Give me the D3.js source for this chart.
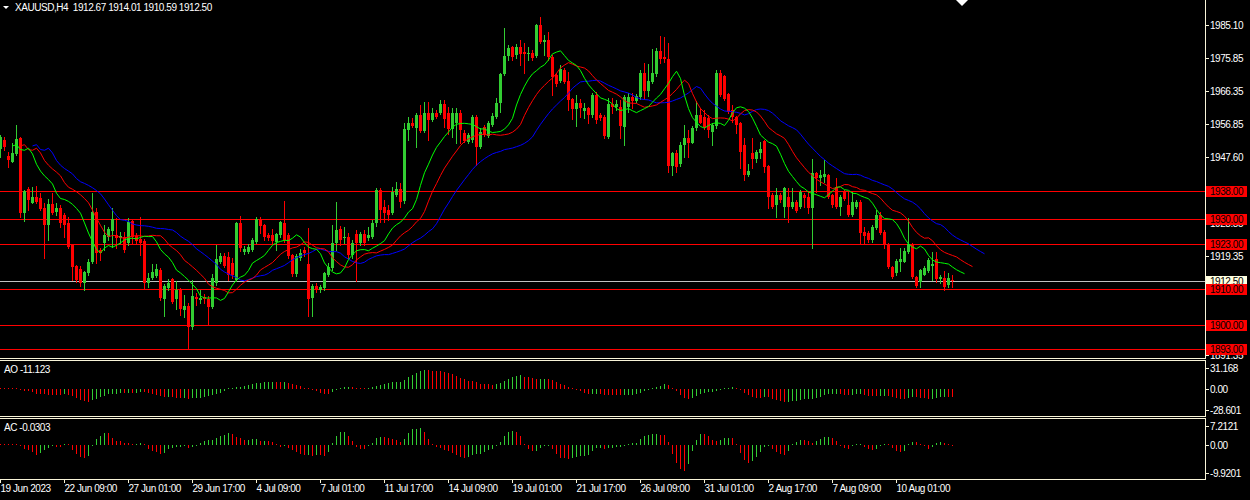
<!DOCTYPE html>
<html>
<head>
<meta charset="utf-8">
<script src="https://cdn.jsdelivr.net/npm/d3@7"></script>
<style>
  html, body { margin: 0; padding: 0; background: #000; overflow: hidden; }
  svg text { font-family: "Liberation Sans", Arial, sans-serif; font-size: 10px; letter-spacing: -0.45px; }
</style>
</head>
<body>
<div id="chart"></div>
<script>
// XAUUSD H4 candles (oldest first)
const opens = [
  1949.9,1952.4,1948.0,1946.3,1948.4,1952.9,1931.6,1938.5,1934.4,1936.3,
  1935.9,1933.0,1928.3,1934.2,1932.1,1933.2,1931.1,1928.9,1922.6,1916.6,
  1915.7,1911.9,1914.6,1917.9,1931.9,1921.2,1923.1,1925.0,1926.6,1925.4,
  1924.5,1924.9,1923.1,1929.4,1925.2,1924.2,1923.8,1911.7,1913.1,1913.8,
  1915.5,1907.3,1910.5,1912.9,1907.2,1909.8,1904.1,1905.3,1899.2,1907.9,
  1907.0,1907.9,1907.4,1905.1,1911.7,1917.9,1919.6,1919.3,1917.5,1912.7,
  1928.8,1920.5,1920.7,1921.2,1923.5,1929.9,1928.3,1925.4,1925.4,1923.4,
  1925.4,1928.8,1925.4,1919.8,1914.4,1918.8,1921.2,1917.2,1907.5,1911.0,
  1909.8,1910.3,1914.1,1916.0,1923.3,1927.1,1924.5,1924.9,1919.8,1925.7,
  1923.1,1925.7,1924.5,1925.0,1928.8,1938.2,1933.5,1932.5,1931.8,1936.8,
  1938.5,1935.2,1955.3,1957.2,1955.8,1959.5,1955.1,1960.0,1958.1,1960.2,
  1960.0,1962.6,1960.0,1955.5,1957.2,1960.0,1954.3,1952.0,1952.4,1958.9,
  1950.4,1956.1,1953.7,1956.7,1959.1,1962.9,1971.2,1976.3,1978.8,1976.6,
  1978.8,1977.5,1976.8,1977.2,1976.3,1985.1,1980.4,1980.8,1976.1,1970.9,
  1969.3,1972.3,1969.3,1964.0,1961.1,1962.9,1960.7,1961.6,1959.5,1965.2,
  1959.5,1959.0,1953.2,1962.6,1961.9,1961.9,1956.2,1961.9,1964.6,1963.6,
  1964.6,1971.5,1966.3,1969.0,1971.1,1977.8,1976.1,1975.4,1945.0,1948.6,
  1945.6,1951.0,1952.9,1951.7,1955.8,1959.4,1959.0,1958.6,1954.8,1956.4,
  1971.4,1970.6,1965.5,1960.9,1958.9,1957.3,1951.0,1942.5,1948.7,1947.0,
  1948.8,1952.1,1945.0,1936.8,1934.0,1936.8,1933.4,1936.2,1933.4,1934.8,
  1933.4,1936.8,1936.2,1933.1,1943.1,1941.6,1941.9,1942.5,1936.8,1939.1,
  1933.4,1937.7,1934.0,1931.1,1933.4,1934.8,1926.3,1926.0,1924.0,1927.4,
  1931.1,1926.3,1922.9,1916.3,1914.6,1917.8,1917.8,1920.6,1922.9,1913.5,
  1912.1,1914.1,1915.2,1916.6,1918.6,1912.9,1913.2,1911.2,1912.67
];
const highs = [
  1953.9,1953.3,1949.1,1951.6,1956.7,1953.3,1938.2,1939.2,1939.2,1939.4,
  1937.4,1934.5,1935.7,1937.4,1934.5,1934.0,1931.7,1930.6,1923.0,1917.0,
  1916.5,1915.3,1918.6,1937.3,1933.1,1921.7,1928.3,1927.8,1933.1,1930.3,
  1926.4,1926.4,1930.3,1930.0,1926.0,1930.6,1924.2,1914.6,1917.2,1917.2,
  1916.0,1911.4,1912.9,1913.2,1912.4,1910.4,1908.4,1906.1,1912.7,1909.0,
  1909.8,1908.7,1908.1,1914.4,1922.6,1920.4,1920.4,1920.7,1918.9,1929.1,
  1930.8,1922.3,1922.8,1924.6,1930.6,1930.6,1928.6,1926.0,1927.1,1926.0,
  1929.4,1935.1,1925.9,1920.0,1920.0,1921.4,1922.0,1927.4,1911.5,1911.8,
  1911.2,1915.0,1917.5,1928.3,1934.7,1928.0,1927.8,1926.0,1924.0,1926.9,
  1926.3,1926.9,1927.8,1929.7,1938.8,1938.8,1935.4,1934.0,1939.0,1940.6,
  1940.1,1957.2,1959.0,1958.6,1960.1,1962.4,1963.3,1963.3,1961.6,1960.9,
  1963.8,1963.8,1961.9,1961.4,1961.4,1960.9,1955.3,1954.3,1959.5,1959.5,
  1955.8,1956.7,1957.7,1960.1,1964.3,1971.6,1984.2,1979.4,1979.1,1979.7,
  1980.8,1980.1,1978.9,1978.0,1985.3,1987.5,1982.3,1983.2,1976.6,1971.5,
  1973.7,1972.9,1971.8,1964.3,1965.2,1964.0,1962.9,1961.9,1965.8,1966.1,
  1960.1,1959.5,1964.3,1964.3,1963.8,1963.8,1965.2,1965.7,1965.7,1965.5,
  1972.3,1974.2,1973.9,1978.2,1978.5,1982.0,1981.6,1979.9,1949.0,1949.6,
  1951.9,1956.7,1955.3,1956.4,1963.6,1961.4,1960.9,1959.5,1957.2,1972.3,
  1972.3,1970.9,1965.8,1962.4,1959.2,1957.6,1953.0,1945.6,1953.0,1949.6,
  1951.9,1952.4,1945.3,1937.4,1938.8,1937.4,1939.1,1938.8,1938.8,1935.4,
  1938.2,1937.4,1937.7,1947.0,1943.3,1943.9,1946.7,1942.8,1937.1,1941.6,
  1936.8,1938.2,1937.7,1937.7,1935.4,1935.4,1927.7,1926.6,1928.3,1932.5,
  1932.0,1926.9,1923.2,1916.6,1918.6,1921.7,1921.7,1930.3,1923.2,1913.8,
  1915.8,1916.6,1918.9,1920.6,1920.6,1914.1,1915.2,1914.6,1914.01
];
const lows = [
  1947.6,1949.6,1944.8,1946.2,1948.2,1930.6,1929.4,1932.5,1934.4,1934.5,
  1932.5,1919.0,1924.0,1931.4,1931.1,1927.7,1925.0,1921.7,1912.7,1912.0,
  1910.9,1909.8,1914.0,1917.5,1917.5,1918.3,1921.2,1924.0,1922.1,1921.7,
  1923.2,1920.7,1922.6,1923.2,1922.8,1919.8,1910.5,1910.8,1913.0,1913.4,
  1907.0,1902.5,1909.8,1906.1,1904.4,1902.7,1902.2,1893.0,1898.8,1905.5,
  1906.1,1906.1,1900.1,1904.8,1911.2,1917.5,1916.4,1912.7,1913.2,1912.5,
  1921.0,1920.0,1920.3,1920.9,1923.2,1926.0,1924.0,1924.0,1923.2,1921.2,
  1925.0,1923.5,1918.8,1913.8,1913.8,1918.3,1919.5,1902.5,1902.5,1909.2,
  1909.2,1909.8,1913.8,1915.5,1921.2,1922.6,1923.1,1918.9,1918.9,1912.5,
  1922.6,1922.6,1924.0,1924.6,1928.0,1929.2,1929.2,1929.7,1931.4,1936.5,
  1933.5,1934.6,1952.4,1956.2,1950.5,1954.8,1954.8,1952.4,1957.8,1958.7,
  1959.8,1956.2,1954.1,1953.4,1951.5,1951.5,1951.9,1951.6,1952.0,1945.3,
  1950.2,1953.6,1953.4,1956.4,1958.7,1960.5,1970.9,1975.2,1975.2,1975.7,
  1973.7,1971.4,1975.2,1975.2,1976.0,1980.0,1976.6,1975.2,1965.2,1967.8,
  1969.0,1968.6,1960.9,1958.3,1956.4,1959.0,1958.6,1957.2,1959.0,1957.2,
  1958.1,1952.9,1952.9,1960.0,1960.9,1952.9,1951.0,1960.5,1961.4,1963.2,
  1964.0,1964.0,1965.0,1968.6,1970.6,1974.2,1974.7,1943.4,1942.5,1943.4,
  1945.0,1947.7,1947.7,1951.6,1955.3,1957.2,1955.5,1953.4,1951.0,1955.8,
  1964.9,1963.8,1960.1,1957.5,1954.4,1944.5,1941.1,1942.2,1944.5,1946.2,
  1947.3,1943.3,1933.1,1933.1,1930.6,1934.8,1930.6,1929.1,1933.1,1932.0,
  1933.1,1933.4,1931.7,1921.7,1937.7,1939.6,1940.5,1935.9,1933.4,1933.1,
  1931.1,1935.4,1930.8,1930.8,1933.1,1923.2,1923.2,1923.5,1923.5,1927.1,
  1925.7,1921.7,1916.1,1913.2,1914.1,1915.2,1917.8,1920.3,1913.2,1910.7,
  1910.7,1914.1,1914.9,1912.7,1912.1,1911.8,1909.8,1910.7,1910.59
];
const closes = [
  1953.3,1950.4,1946.7,1948.8,1952.6,1931.6,1937.9,1935.4,1936.3,1934.9,
  1932.8,1928.3,1934.2,1931.8,1933.2,1928.8,1928.3,1922.1,1916.4,1912.7,
  1911.9,1914.8,1917.9,1932.1,1920.4,1920.2,1925.4,1927.1,1930.0,1924.5,
  1925.2,1921.2,1929.0,1924.8,1923.8,1923.1,1911.7,1913.2,1915.0,1915.7,
  1907.5,1911.0,1911.9,1906.5,1909.8,1904.3,1905.3,1899.4,1908.1,1907.2,
  1907.6,1907.2,1905.1,1913.1,1918.6,1919.6,1916.6,1914.1,1914.1,1928.8,
  1921.7,1921.5,1922.0,1924.0,1929.9,1928.0,1925.0,1924.5,1923.8,1925.7,
  1929.2,1924.0,1919.5,1914.4,1919.5,1920.2,1920.3,1907.3,1911.0,1909.8,
  1910.7,1914.6,1916.4,1923.1,1926.9,1924.0,1924.9,1919.8,1923.1,1923.1,
  1925.7,1923.3,1925.4,1928.8,1938.2,1932.5,1931.6,1931.1,1937.7,1938.5,
  1934.9,1955.6,1957.2,1956.4,1959.5,1955.1,1960.0,1958.1,1960.0,1959.0,
  1962.6,1958.3,1955.5,1960.2,1960.0,1955.3,1952.2,1953.8,1958.9,1950.5,
  1954.7,1953.8,1957.2,1959.2,1962.9,1971.2,1976.3,1978.5,1976.1,1978.8,
  1976.9,1976.8,1977.2,1975.6,1985.1,1980.4,1980.8,1976.1,1970.4,1968.3,
  1972.5,1969.0,1963.8,1961.1,1962.9,1961.4,1961.6,1959.5,1965.2,1958.1,
  1958.6,1953.6,1962.6,1961.9,1962.6,1956.4,1964.7,1964.7,1963.6,1964.9,
  1971.5,1966.3,1969.2,1971.5,1977.8,1975.4,1975.4,1945.0,1948.6,1944.8,
  1951.0,1952.9,1951.7,1955.8,1959.4,1957.3,1956.2,1955.3,1956.7,1971.4,
  1965.2,1964.0,1960.4,1958.9,1956.7,1949.0,1942.5,1943.6,1947.0,1949.0,
  1949.9,1944.8,1936.2,1933.4,1936.8,1935.4,1938.8,1933.4,1934.8,1932.3,
  1937.7,1936.0,1933.1,1943.1,1941.6,1942.5,1942.8,1936.2,1934.0,1933.4,
  1936.2,1935.7,1931.1,1934.8,1934.8,1926.0,1925.2,1924.0,1927.7,1931.1,
  1926.0,1922.6,1916.3,1913.5,1918.0,1918.6,1920.9,1922.9,1913.5,1911.0,
  1915.5,1916.1,1918.3,1917.2,1912.9,1913.5,1910.7,1913.2,1912.50
];

// time axis: a label every 16 bars
const timeTickBars = [0,16,32,48,64,80,96,112,128,144,160,176,192,208,224];
const timeLabels = ["19 Jun 2023","22 Jun 09:00","27 Jun 01:00","29 Jun 17:00","4 Jul 09:00",
  "7 Jul 01:00","11 Jul 17:00","14 Jul 09:00","19 Jul 01:00","21 Jul 17:00","26 Jul 09:00",
  "31 Jul 01:00","2 Aug 17:00","7 Aug 09:00","10 Aug 01:00"];

// price labels that show (the ones under the level boxes are hidden in the original)
const priceTicks = [1985.10,1975.85,1966.35,1956.85,1947.60,1928.85,1919.35,1891.35];
const levels = [1938,1930,1923,1910,1900,1893];
const bid = 1912.50;
const title = "XAUUSD,H4  1912.67 1914.01 1910.59 1912.50";

const aoTicks = [31.168, 0, -28.601];
const aoTickText = ["31.168", "0.00", "-28.601"];
const acTicks = [7.2121, 0, -9.9201];
const acTickText = ["7.2121", "0.00", "-9.9201"];
const aoTitle = "AO -11.123";
const acTitle = "AC -0.0303";

// ---- chart setup ----
const width = 1250, height = 500;
const plotRight = 1205;
const bull = "#32cd32", bear = "#ff0000", frame = "#f8f4d8";

const svg = d3.select("#chart").append("svg")
  .attr("width", width)
  .attr("height", height)
  .style("background", "#000");

const x = d3.scaleLinear().domain([0, 1]).range([0.5, 4.5]);
const y = d3.scaleLinear().domain([1891.35, 1985.10]).range([355, 25]);
const yAO = d3.scaleLinear().domain([-28.601, 31.168]).range([409.5, 367.5]);
const yAC = d3.scaleLinear().domain([-9.9201, 7.2121]).range([472.5, 425.7]);

const panels = [
  {id: "main", top: 0, bottom: 358.5},
  {id: "ao", top: 360.5, bottom: 416.5},
  {id: "ac", top: 418.5, bottom: 479.5}
];

const defs = svg.append("defs");
panels.forEach(p => {
  defs.append("clipPath").attr("id", "clip-" + p.id)
    .append("rect").attr("x", 0).attr("y", p.top + 0.5)
    .attr("width", plotRight).attr("height", p.bottom - p.top - 1);
});

// ---- indicators ----
const median = highs.map((h, i) => (h + lows[i]) / 2);

function sma(src, n) {
  return src.map((_, i) => d3.mean(src.slice(Math.max(0, i - n + 1), i + 1)));
}
function smma(src, n) {
  const out = [];
  let prev = 0;
  src.forEach((v, i) => {
    if (i < n) prev = d3.mean(src.slice(0, i + 1));
    else prev = (prev * (n - 1) + v) / n;
    out.push(prev);
  });
  return out;
}

const fast = sma(median, 5), slow = sma(median, 34);
const ao = fast.map((v, i) => v - slow[i]);
const aoSma = sma(ao, 5);
const ac = ao.map((v, i) => v - aoSma[i]);

// Alligator: jaw 13/8, teeth 8/5, lips 5/3
const alligator = [
  {vals: smma(median, 13), shift: 8, color: "#0000ff"},
  {vals: smma(median, 8), shift: 5, color: "#ff0000"},
  {vals: smma(median, 5), shift: 3, color: "#00ff00"}
];

// ---- main panel ----
const main = svg.append("g").attr("clip-path", "url(#clip-main)");

// horizontal levels
main.selectAll("line.level")
  .data(levels)
  .enter()
  .append("line")
  .attr("x1", 0).attr("x2", plotRight)
  .attr("y1", d => Math.round(y(d)) + 0.5)
  .attr("y2", d => Math.round(y(d)) + 0.5)
  .attr("stroke", "#ff0000")
  .attr("shape-rendering", "crispEdges");

// bid line
main.append("line")
  .attr("x1", 0).attr("x2", plotRight)
  .attr("y1", Math.round(y(bid)) + 0.5).attr("y2", Math.round(y(bid)) + 0.5)
  .attr("stroke", "#c0c0c0")
  .attr("shape-rendering", "crispEdges");

const bars = d3.range(closes.length);
const candleColor = i => closes[i] >= opens[i] ? bull : bear;

main.selectAll("line.wick")
  .data(bars)
  .enter()
  .append("line")
  .attr("x1", i => x(i)).attr("x2", i => x(i))
  .attr("y1", i => Math.round(y(highs[i])))
  .attr("y2", i => Math.round(y(lows[i])) + 1)
  .attr("stroke", candleColor)
  .attr("shape-rendering", "crispEdges");

main.selectAll("rect.body")
  .data(bars)
  .enter()
  .append("rect")
  .attr("x", i => x(i) - 1.5)
  .attr("width", 3)
  .attr("y", i => Math.round(y(Math.max(opens[i], closes[i]))))
  .attr("height", i => Math.max(1, Math.round(y(Math.min(opens[i], closes[i]))) - Math.round(y(Math.max(opens[i], closes[i])))))
  .attr("fill", candleColor)
  .attr("shape-rendering", "crispEdges");

// Alligator lines
alligator.forEach(a => {
  const line = d3.line()
    .x((d, i) => x(i + a.shift))
    .y(d => y(d));
  main.append("path")
    .attr("d", line(a.vals))
    .attr("fill", "none")
    .attr("stroke", a.color)
    .attr("stroke-width", 1);
});

// ---- oscillator panels ----
function histogram(id, vals, scale) {
  const g = svg.append("g").attr("clip-path", "url(#clip-" + id + ")");
  const zero = scale(0);
  g.selectAll("line")
    .data(vals)
    .enter()
    .append("line")
    .attr("x1", (d, i) => x(i)).attr("x2", (d, i) => x(i))
    .attr("y1", zero)
    .attr("y2", d => Math.abs(scale(d) - zero) < 1 ? zero + (d < 0 ? 1 : -1) : scale(d))
    .attr("stroke", (d, i) => (i > 0 && d > vals[i - 1]) ? bull : bear)
    .attr("shape-rendering", "crispEdges");
}
histogram("ao", ao, yAO);
histogram("ac", ac, yAC);

// ---- frames ----
const frames = svg.append("g")
  .attr("stroke", frame)
  .attr("shape-rendering", "crispEdges");
panels.forEach(p => {
  if (p.top > 0) frames.append("line").attr("x1", 0).attr("x2", plotRight + 0.5).attr("y1", p.top).attr("y2", p.top);
  frames.append("line").attr("x1", 0).attr("x2", plotRight + 0.5).attr("y1", p.bottom).attr("y2", p.bottom);
  frames.append("line").attr("x1", plotRight + 0.5).attr("x2", plotRight + 0.5).attr("y1", p.top).attr("y2", p.bottom);
});

// ---- price axis ----
const axisG = svg.append("g");
function rightAxis(ticks, texts, scale) {
  ticks.forEach((t, i) => {
    const yy = Math.round(scale(t)) + 0.5;
    axisG.append("line")
      .attr("x1", plotRight + 0.5).attr("x2", plotRight + 4)
      .attr("y1", yy).attr("y2", yy)
      .attr("stroke", frame).attr("shape-rendering", "crispEdges");
    axisG.append("text")
      .attr("x", 1210).attr("y", yy + 3.5)
      .attr("fill", "#fff")
      .text(texts[i]);
  });
}
rightAxis(priceTicks, priceTicks.map(d => d.toFixed(2)), y);
rightAxis(aoTicks, aoTickText, yAO);
rightAxis(acTicks, acTickText, yAC);

// bid label (drawn first, the 1910 box sits over its lower edge as in the original)
axisG.append("rect")
  .attr("x", 1206).attr("y", Math.round(y(bid)) - 5).attr("width", 41).attr("height", 11)
  .attr("fill", "#ffffe0");
axisG.append("text")
  .attr("x", 1210).attr("y", Math.round(y(bid)) + 4)
  .attr("fill", "#000")
  .text(bid.toFixed(2));

// level labels on the axis
levels.forEach(l => {
  const yy = Math.round(y(l));
  axisG.append("rect")
    .attr("x", 1206).attr("y", yy - 5).attr("width", 41).attr("height", 11)
    .attr("fill", "#ff0000");
  axisG.append("text")
    .attr("x", 1210).attr("y", yy + 4)
    .attr("fill", "#000")
    .text(l.toFixed(2));
});

// ---- time axis ----
timeTickBars.forEach((b, i) => {
  svg.append("line")
    .attr("x1", x(b)).attr("x2", x(b))
    .attr("y1", 479.5).attr("y2", 483)
    .attr("stroke", frame).attr("shape-rendering", "crispEdges");
  svg.append("text")
    .attr("x", x(b)).attr("y", 492)
    .attr("fill", "#fff")
    .text(timeLabels[i]);
});

// ---- titles ----
svg.append("path")
  .attr("d", "M3,6 L9,6 L6,9 Z")
  .attr("fill", "#fff");
svg.append("text")
  .attr("x", 15).attr("y", 11)
  .attr("fill", "#fff")
  .style("white-space", "pre")
  .text(title);
svg.append("text").attr("x", 4).attr("y", 372.5).attr("fill", "#fff").text(aoTitle);
svg.append("text").attr("x", 4).attr("y", 430.5).attr("fill", "#fff").text(acTitle);

// chart shift marker at the top
svg.append("path")
  .attr("d", "M956,0 L968,0 L962,6 Z")
  .attr("fill", "#fff");
</script>
</body>
</html>
